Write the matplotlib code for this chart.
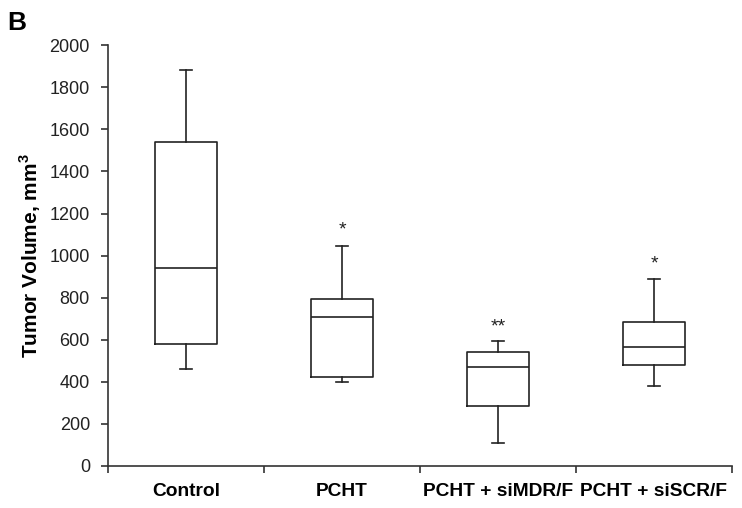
import matplotlib.pyplot as plt
from matplotlib.ticker import FixedLocator

plt.rcParams['font.family'] = ['Liberation Sans', 'DejaVu Sans']

groups = ['Control', 'PCHT', 'PCHT + siMDR/F', 'PCHT + siSCR/F']
whisker_low = [460, 400, 110, 380]
q1 = [578, 423, 283, 480]
median = [943, 708, 470, 565]
q3 = [1538, 792, 541, 685]
whisker_high = [1884, 1048, 594, 891]
stars = ['', '*', '**', '*']
star_y = [0, 1120, 660, 960]

stats = []
for i in range(len(groups)):
    stats.append({'whislo': whisker_low[i], 'q1': q1[i], 'med': median[i],
                  'q3': q3[i], 'whishi': whisker_high[i], 'fliers': []})

figure = plt.figure(figsize=(7.42, 5.08), dpi=100)
axes = figure.add_axes([0.1456, 0.0827, 0.8409, 0.8283])

line = dict(color='#222222', linewidth=1.2)
positions = range(1, len(groups) + 1)
axes.bxp(stats, positions=positions, widths=0.4, capwidths=0.08,
         showfliers=False, boxprops=line, whiskerprops=line, capprops=line,
         medianprops=line)

for x, s, y in zip(positions, stars, star_y):
    if s:
        axes.text(x, y, s, ha='center', va='center', fontsize=14, color='#222222')

axes.set_xlim(0.5, len(groups) + 0.5)
axes.set_ylim(0, 2000)
axes.set_yticks(range(0, 2001, 200))
axes.set_xticks(list(positions))
axes.set_xticklabels(groups, fontsize=13.8, fontweight='bold')
axes.xaxis.set_minor_locator(FixedLocator([i + 0.5 for i in range(len(groups) + 1)]))
axes.tick_params(axis='x', which='major', length=0, pad=12)
axes.tick_params(axis='x', which='minor', length=5, width=1.2, color='#333333')
axes.tick_params(axis='y', length=5, width=1.2, color='#333333', labelsize=13,
                 pad=8, labelcolor='#222222')

for side in ['top', 'right']:
    axes.spines[side].set_visible(False)
for side in ['left', 'bottom']:
    axes.spines[side].set_linewidth(1.2)
    axes.spines[side].set_color('#333333')

axes.set_ylabel('Tumor Volume, mm$^\\mathregular{3}$', fontsize=15,
                fontweight='bold', labelpad=5)
figure.text(0.010, 0.978, 'B', fontsize=19, fontweight='bold', va='top', ha='left')

figure.savefig('out.png', dpi=100)
